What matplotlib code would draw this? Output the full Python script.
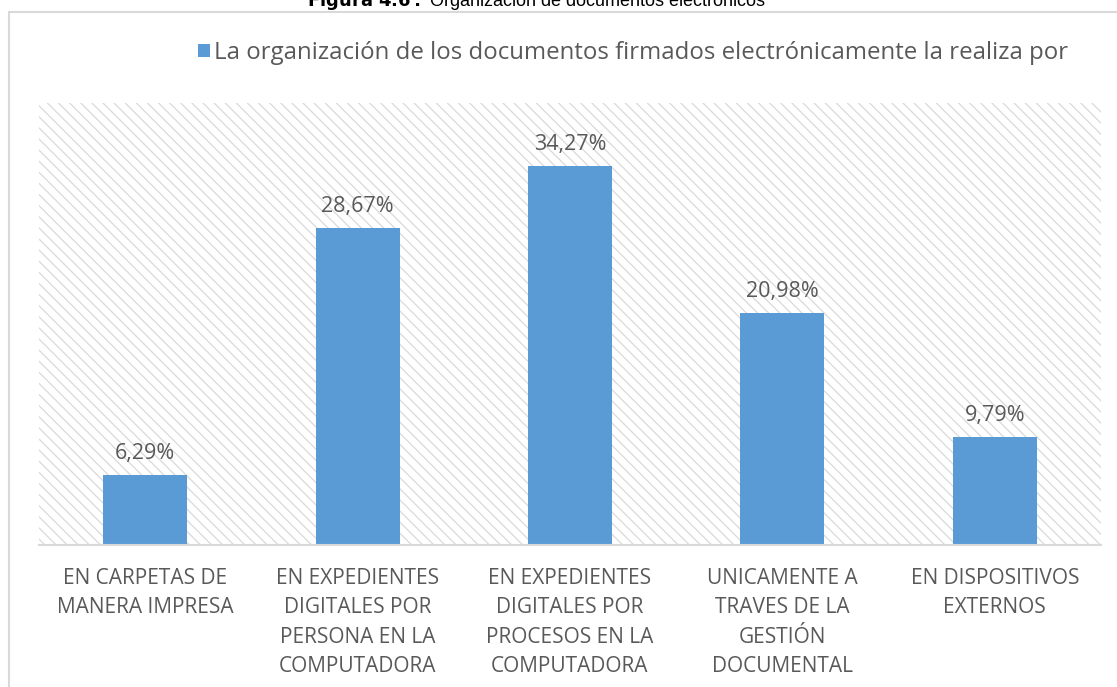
import matplotlib.pyplot as plt
from matplotlib.patches import Rectangle

# data
categories = [
    "EN CARPETAS DE\nMANERA IMPRESA",
    "EN EXPEDIENTES\nDIGITALES POR\nPERSONA EN LA\nCOMPUTADORA",
    "EN EXPEDIENTES\nDIGITALES POR\nPROCESOS EN LA\nCOMPUTADORA",
    "UNICAMENTE A\nTRAVES DE LA\nGESTIÓN\nDOCUMENTAL",
    "EN DISPOSITIVOS\nEXTERNOS",
]
values = [6.29, 28.67, 34.27, 20.98, 9.79]
series_name = "La organización de los documentos firmados electrónicamente la realiza por"

W, H = 1117, 687
blue = "#5b9bd5"
gray_txt = "#595959"

plt.rcParams["font.family"] = ["Open Sans", "DejaVu Sans"]
plt.rcParams["hatch.color"] = "#d9d9d9"
plt.rcParams["hatch.linewidth"] = 0.9

fig = plt.figure(figsize=(W / 100, H / 100), dpi=100)
fig.patch.set_facecolor("white")

# outer chart frame (partly cropped in the original)
fig.add_artist(Rectangle((9 / W, -0.05), 1.2, 1 - 12 / H + 0.05, transform=fig.transFigure,
                         fill=False, edgecolor="#d9d9d9", linewidth=1.5))

# clipped caption on top
fig.text(536 / W, 1 - 6.5 / H, r"$\bf{Figura\ 4.6:}$ Organización de documentos electrónicos",
         ha="center", va="baseline", fontsize=13, family="Liberation Sans", color="black")

ax = fig.add_axes([39 / W, 1 - 545 / H, (1101 - 39) / W, (545 - 103) / H])
ax.set_xlim(-0.5, len(values) - 0.5)
ax.set_ylim(0, 40)

# hatched plot area background
ax.add_patch(Rectangle((0, 0), 1, 1, transform=ax.transAxes, facecolor="white",
                       hatch="\\" * 3, edgecolor="#d9d9d9", linewidth=0, zorder=0))

x = range(len(values))
bars = ax.bar(x, values, width=0.396, color=blue, zorder=2, label=series_name)

for xi, v in zip(x, values):
    ax.annotate(f"{v:.2f}%".replace(".", ","), (xi, v), xytext=(0, 8), textcoords="offset points",
                ha="center", va="bottom", fontsize=15.5, color=gray_txt)

for s in ["top", "left", "right"]:
    ax.spines[s].set_visible(False)
ax.spines["bottom"].set_color("#d9d9d9")
ax.spines["bottom"].set_linewidth(1.5)
ax.set_yticks([])
ax.set_xticks(list(x))
ax.set_xticklabels(categories, fontsize=15, color=gray_txt, linespacing=1.52)
ax.tick_params(axis="x", length=0, pad=16.5)

leg = fig.legend(handles=[bars], labels=[series_name], loc="center",
                 bbox_to_anchor=(633 / W, 1 - 53 / H), frameon=False, fontsize=17.3,
                 handlelength=0.5, handleheight=0.5, handletextpad=0.2)
for t in leg.get_texts():
    t.set_color(gray_txt)

fig.savefig("out.png", dpi=100)
